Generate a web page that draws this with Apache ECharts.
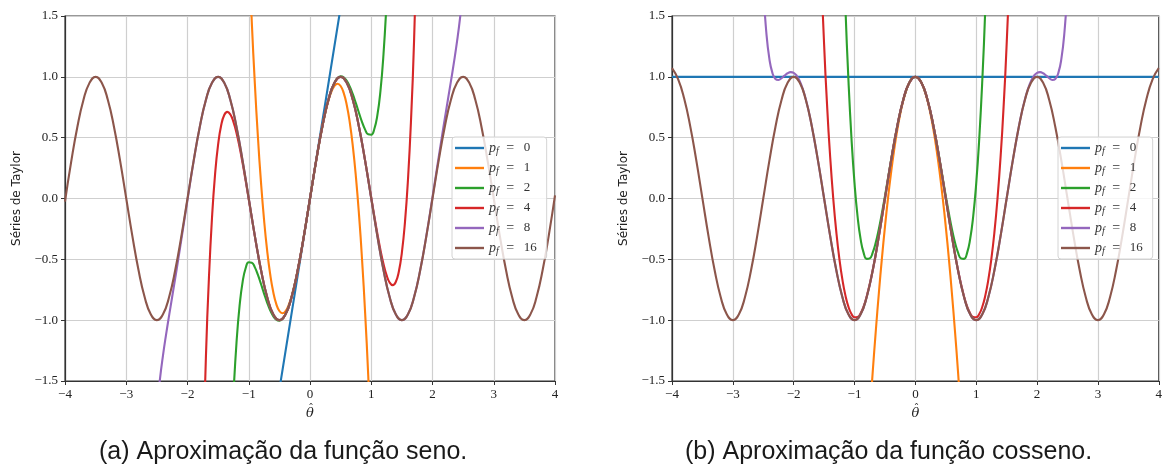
<!DOCTYPE html>
<html>
<head>
<meta charset="utf-8">
<script src="https://cdn.jsdelivr.net/npm/echarts@6/dist/echarts.min.js"></script>
<style>
  html, body { margin: 0; padding: 0; background: #ffffff; }
  #chart { width: 1165px; height: 473px; }
</style>
</head>
<body>
<div id="chart"></div>
<script>
// Taylor partial sums of sin(pi*theta) and cos(pi*theta), one array of [theta, value] per order p_f.

const seriesNames = ['p_f = 0', 'p_f = 1', 'p_f = 2', 'p_f = 4', 'p_f = 8', 'p_f = 16'];
const seriesColors = ['#1f77b4', '#ff7f0e', '#2ca02c', '#d62728', '#9467bd', '#8c564b'];
const captions = ['(a) Aproximação da função seno.', '(b) Aproximação da função cosseno.'];
const yAxisTitle = 'Séries de Taylor';
const xAxisTitle = '{h|\u02C6}\n{t|θ}';

// ---- sine panel ----
const sinP0 = [[-0.5, -1.5708], [0, 0], [0.5, 1.5708]];

const sinP1 = [
  [-1.0, 2.0261], [-0.95, 1.4462], [-0.9, 0.9399], [-0.85, 0.5033], [-0.8, 0.1326],
  [-0.75, -0.1760], [-0.7, -0.4266], [-0.65, -0.6228], [-0.6, -0.7687], [-0.55, -0.8681],
  [-0.5, -0.9248], [-0.45, -0.9428], [-0.4, -0.9259], [-0.35, -0.8780], [-0.3, -0.8029],
  [-0.25, -0.7047], [-0.2, -0.5870], [-0.15, -0.4538], [-0.1, -0.3090], [-0.05, -0.1564],
  [0, 0],
  [0.05, 0.1564], [0.1, 0.3090], [0.15, 0.4538], [0.2, 0.5870], [0.25, 0.7047],
  [0.3, 0.8029], [0.35, 0.8780], [0.4, 0.9259], [0.45, 0.9428], [0.5, 0.9248],
  [0.55, 0.8681], [0.6, 0.7687], [0.65, 0.6228], [0.7, 0.4266], [0.75, 0.1760],
  [0.8, -0.1326], [0.85, -0.5033], [0.9, -0.9399], [0.95, -1.4462], [1.0, -2.0261]
];

const sinP2 = [
  [-1.25, -1.6163], [-1.2, -1.1857], [-1.15, -0.8827], [-1.1, -0.6846], [-1.05, -0.5711],
  [-1.0, -0.5241], [-0.95, -0.5271], [-0.9, -0.5659], [-0.85, -0.6282], [-0.8, -0.7030],
  [-0.75, -0.7812], [-0.7, -0.8552], [-0.65, -0.9187], [-0.6, -0.9670], [-0.55, -0.9965],
  [-0.5, -1.0045], [-0.45, -0.9899], [-0.4, -0.9520], [-0.35, -0.8914], [-0.3, -0.8091],
  [-0.25, -0.7072], [-0.2, -0.5878], [-0.15, -0.4540], [-0.1, -0.3090], [-0.05, -0.1564],
  [0, 0],
  [0.05, 0.1564], [0.1, 0.3090], [0.15, 0.4540], [0.2, 0.5878], [0.25, 0.7072],
  [0.3, 0.8091], [0.35, 0.8914], [0.4, 0.9520], [0.45, 0.9899], [0.5, 1.0045],
  [0.55, 0.9965], [0.6, 0.9670], [0.65, 0.9187], [0.7, 0.8552], [0.75, 0.7812],
  [0.8, 0.7030], [0.85, 0.6282], [0.9, 0.5659], [0.95, 0.5271], [1.0, 0.5241],
  [1.05, 0.5711], [1.1, 0.6846], [1.15, 0.8827], [1.2, 1.1857], [1.25, 1.6163]
];

const sinP4 = [
  [-1.75, -2.1814], [-1.7, -1.3118], [-1.65, -0.6511], [-1.6, -0.1587], [-1.55, 0.1978],
  [-1.5, 0.4443], [-1.45, 0.6017], [-1.4, 0.6865], [-1.35, 0.7122], [-1.3, 0.6900],
  [-1.25, 0.6292], [-1.2, 0.5377], [-1.15, 0.4224], [-1.1, 0.2895], [-1.05, 0.1447],
  [-1.0, -0.0069], [-0.95, -0.1604], [-0.9, -0.3112], [-0.85, -0.4552], [-0.8, -0.5884],
  [-0.7, -0.8091], [-0.6, -0.9511], [-0.5, -1.0000], [-0.4, -0.9511], [-0.3, -0.8090],
  [-0.2, -0.5878], [-0.1, -0.3090], [0, 0], [0.1, 0.3090], [0.2, 0.5878],
  [0.3, 0.8090], [0.4, 0.9511], [0.5, 1.0000], [0.6, 0.9511], [0.7, 0.8091],
  [0.8, 0.5884], [0.85, 0.4552], [0.9, 0.3112], [0.95, 0.1604], [1.0, 0.0069],
  [1.05, -0.1447], [1.1, -0.2895], [1.15, -0.4224], [1.2, -0.5377], [1.25, -0.6292],
  [1.3, -0.6900], [1.35, -0.7122], [1.4, -0.6865], [1.45, -0.6017], [1.5, -0.4443],
  [1.55, -0.1978], [1.6, 0.1587], [1.65, 0.6511], [1.7, 1.3118], [1.75, 2.1814]
];

const sinP8 = [
  [-2.55, -2.0393], [-2.5, -1.7257], [-2.45, -1.4847], [-2.4, -1.2888], [-2.35, -1.1185],
  [-2.3, -0.9610], [-2.25, -0.8077], [-2.2, -0.6537], [-2.15, -0.4968], [-2.1, -0.3365],
  [-2.05, -0.1739], [-2.0, -0.0110], [-1.9, 0.3048], [-1.8, 0.5863], [-1.7, 0.8085],
  [-1.6, 0.9509], [-1.5, 1.0000], [-1.4, 0.9511], [-1.3, 0.8090], [-1.2, 0.5878],
  [-1.1, 0.3090], [-1.0, 0], [-0.9, -0.3090], [-0.8, -0.5878], [-0.7, -0.8090],
  [-0.6, -0.9511], [-0.5, -1.0000], [-0.4, -0.9511], [-0.3, -0.8090], [-0.2, -0.5878],
  [-0.1, -0.3090], [0, 0], [0.1, 0.3090], [0.2, 0.5878], [0.3, 0.8090],
  [0.4, 0.9511], [0.5, 1.0000], [0.6, 0.9511], [0.7, 0.8090], [0.8, 0.5878],
  [0.9, 0.3090], [1.0, 0], [1.1, -0.3090], [1.2, -0.5878], [1.3, -0.8090],
  [1.4, -0.9511], [1.5, -1.0000], [1.6, -0.9509], [1.7, -0.8085], [1.8, -0.5863],
  [1.9, -0.3048], [2.0, 0.0110], [2.05, 0.1739], [2.1, 0.3365], [2.15, 0.4968],
  [2.2, 0.6537], [2.25, 0.8077], [2.3, 0.9610], [2.35, 1.1185], [2.4, 1.2888],
  [2.45, 1.4847], [2.5, 1.7257], [2.55, 2.0393]
];

const sinP16 = [
  [-4.0, -0.0257], [-3.9, 0.2984], [-3.8, 0.5835], [-3.7, 0.8073], [-3.6, 0.9504],
  [-3.5, 1.0000], [-3.4, 0.9511], [-3.3, 0.8090], [-3.2, 0.5878], [-3.1, 0.3090],
  [-3.0, 0], [-2.9, -0.3090], [-2.8, -0.5878], [-2.7, -0.8090], [-2.6, -0.9511],
  [-2.5, -1.0000], [-2.4, -0.9511], [-2.3, -0.8090], [-2.2, -0.5878], [-2.1, -0.3090],
  [-2.0, 0], [-1.9, 0.3090], [-1.8, 0.5878], [-1.7, 0.8090], [-1.6, 0.9511],
  [-1.5, 1.0000], [-1.4, 0.9511], [-1.3, 0.8090], [-1.2, 0.5878], [-1.1, 0.3090],
  [-1.0, 0], [-0.9, -0.3090], [-0.8, -0.5878], [-0.7, -0.8090], [-0.6, -0.9511],
  [-0.5, -1.0000], [-0.4, -0.9511], [-0.3, -0.8090], [-0.2, -0.5878], [-0.1, -0.3090],
  [0, 0],
  [0.1, 0.3090], [0.2, 0.5878], [0.3, 0.8090], [0.4, 0.9511], [0.5, 1.0000],
  [0.6, 0.9511], [0.7, 0.8090], [0.8, 0.5878], [0.9, 0.3090], [1.0, 0],
  [1.1, -0.3090], [1.2, -0.5878], [1.3, -0.8090], [1.4, -0.9511], [1.5, -1.0000],
  [1.6, -0.9511], [1.7, -0.8090], [1.8, -0.5878], [1.9, -0.3090], [2.0, 0],
  [2.1, 0.3090], [2.2, 0.5878], [2.3, 0.8090], [2.4, 0.9511], [2.5, 1.0000],
  [2.6, 0.9511], [2.7, 0.8090], [2.8, 0.5878], [2.9, 0.3090], [3.0, 0],
  [3.1, -0.3090], [3.2, -0.5878], [3.3, -0.8090], [3.4, -0.9511], [3.5, -1.0000],
  [3.6, -0.9504], [3.7, -0.8073], [3.8, -0.5835], [3.9, -0.2984], [4.0, 0.0257]
];

// ---- cosine panel ----
const cosP0 = [[-4, 1], [4, 1]];

const cosP1 = [
  [-0.75, -1.7758], [-0.7, -1.4181], [-0.65, -1.0850], [-0.6, -0.7765], [-0.55, -0.4928],
  [-0.5, -0.2337], [-0.45, 0.0007], [-0.4, 0.2104], [-0.35, 0.3955], [-0.3, 0.5559],
  [-0.25, 0.6916], [-0.2, 0.8026], [-0.15, 0.8890], [-0.1, 0.9507], [-0.05, 0.9877],
  [0, 1.0000],
  [0.05, 0.9877], [0.1, 0.9507], [0.15, 0.8890], [0.2, 0.8026], [0.25, 0.6916],
  [0.3, 0.5559], [0.35, 0.3955], [0.4, 0.2104], [0.45, 0.0007], [0.5, -0.2337],
  [0.55, -0.4928], [0.6, -0.7765], [0.65, -1.0850], [0.7, -1.4181], [0.75, -1.7758]
];

const cosP2 = [
  [-1.2, 2.3100], [-1.15, 1.5724], [-1.1, 0.9713], [-1.05, 0.4928], [-1.0, 0.1239],
  [-0.95, -0.1479], [-0.9, -0.3343], [-0.85, -0.4467], [-0.8, -0.4959], [-0.75, -0.4916],
  [-0.7, -0.4436], [-0.65, -0.3605], [-0.6, -0.2505], [-0.55, -0.1214], [-0.5, 0.0200],
  [-0.45, 0.1671], [-0.4, 0.3143], [-0.35, 0.4564], [-0.3, 0.5888], [-0.25, 0.7075],
  [-0.2, 0.8091], [-0.15, 0.8910], [-0.1, 0.9511], [-0.05, 0.9877], [0, 1.0000],
  [0.05, 0.9877], [0.1, 0.9511], [0.15, 0.8910], [0.2, 0.8091], [0.25, 0.7075],
  [0.3, 0.5888], [0.35, 0.4564], [0.4, 0.3143], [0.45, 0.1671], [0.5, 0.0200],
  [0.55, -0.1214], [0.6, -0.2505], [0.65, -0.3605], [0.7, -0.4436], [0.75, -0.4916],
  [0.8, -0.4959], [0.85, -0.4467], [0.9, -0.3343], [0.95, -0.1479], [1.0, 0.1239],
  [1.05, 0.4928], [1.1, 0.9713], [1.15, 1.5724], [1.2, 2.3100]
];

const cosP4 = [
  [-1.6, 2.6715], [-1.55, 1.8950], [-1.5, 1.2657], [-1.45, 0.7547], [-1.4, 0.3388],
  [-1.35, 0.0007], [-1.3, -0.2731], [-1.25, -0.4926], [-1.2, -0.6651], [-1.15, -0.7962],
  [-1.1, -0.8898], [-1.05, -0.9489], [-1.0, -0.9760], [-0.95, -0.9732], [-0.9, -0.9426],
  [-0.85, -0.8862], [-0.8, -0.8064], [-0.7, -0.5871], [-0.6, -0.3088], [-0.5, 0.0000],
  [-0.4, 0.3090], [-0.3, 0.5878], [-0.2, 0.8090], [-0.1, 0.9511], [0, 1.0000],
  [0.1, 0.9511], [0.2, 0.8090], [0.3, 0.5878], [0.4, 0.3090], [0.5, 0.0000],
  [0.6, -0.3088], [0.7, -0.5871], [0.8, -0.8064], [0.85, -0.8862], [0.9, -0.9426],
  [0.95, -0.9732], [1.0, -0.9760], [1.05, -0.9489], [1.1, -0.8898], [1.15, -0.7962],
  [1.2, -0.6651], [1.25, -0.4926], [1.3, -0.2731], [1.35, 0.0007], [1.4, 0.3388],
  [1.45, 0.7547], [1.5, 1.2657], [1.55, 1.8950], [1.6, 2.6715]
];

const cosP8 = [
  [-2.55, 2.3000], [-2.5, 1.7310], [-2.45, 1.3667], [-2.4, 1.1489], [-2.35, 1.0322],
  [-2.3, 0.9825], [-2.25, 0.9743], [-2.2, 0.9883], [-2.15, 1.0101], [-2.1, 1.0295],
  [-2.05, 1.0388], [-2.0, 1.0329], [-1.95, 1.0087], [-1.9, 0.9643], [-1.85, 0.8992],
  [-1.8, 0.8140], [-1.75, 0.7101], [-1.7, 0.5896], [-1.6, 0.3096], [-1.5, 0.0002],
  [-1.4, -0.3090], [-1.3, -0.5878], [-1.2, -0.8090], [-1.1, -0.9511], [-1.0, -1.0000],
  [-0.9, -0.9511], [-0.8, -0.8090], [-0.7, -0.5878], [-0.6, -0.3090], [-0.5, 0],
  [-0.4, 0.3090], [-0.3, 0.5878], [-0.2, 0.8090], [-0.1, 0.9511], [0, 1.0000],
  [0.1, 0.9511], [0.2, 0.8090], [0.3, 0.5878], [0.4, 0.3090], [0.5, 0],
  [0.6, -0.3090], [0.7, -0.5878], [0.8, -0.8090], [0.9, -0.9511], [1.0, -1.0000],
  [1.1, -0.9511], [1.2, -0.8090], [1.3, -0.5878], [1.4, -0.3090], [1.5, 0.0002],
  [1.6, 0.3096], [1.7, 0.5896], [1.75, 0.7101], [1.8, 0.8140], [1.85, 0.8992],
  [1.9, 0.9643], [1.95, 1.0087], [2.0, 1.0329], [2.05, 1.0388], [2.1, 1.0295],
  [2.15, 1.0101], [2.2, 0.9883], [2.25, 0.9743], [2.3, 0.9825], [2.35, 1.0322],
  [2.4, 1.1489], [2.45, 1.3667], [2.5, 1.7310], [2.55, 2.3000]
];

const cosP16 = [
  [-4.0, 1.0710], [-3.9, 0.9813], [-3.8, 0.8215], [-3.7, 0.5929], [-3.6, 0.3110],
  [-3.5, 0.0008], [-3.4, -0.3090], [-3.3, -0.5878], [-3.2, -0.8090], [-3.1, -0.9511],
  [-3.0, -1.0000], [-2.9, -0.9511], [-2.8, -0.8090], [-2.7, -0.5878], [-2.6, -0.3090],
  [-2.5, 0], [-2.4, 0.3090], [-2.3, 0.5878], [-2.2, 0.8090], [-2.1, 0.9511],
  [-2.0, 1.0000], [-1.9, 0.9511], [-1.8, 0.8090], [-1.7, 0.5878], [-1.6, 0.3090],
  [-1.5, 0], [-1.4, -0.3090], [-1.3, -0.5878], [-1.2, -0.8090], [-1.1, -0.9511],
  [-1.0, -1.0000], [-0.9, -0.9511], [-0.8, -0.8090], [-0.7, -0.5878], [-0.6, -0.3090],
  [-0.5, 0], [-0.4, 0.3090], [-0.3, 0.5878], [-0.2, 0.8090], [-0.1, 0.9511],
  [0, 1.0000],
  [0.1, 0.9511], [0.2, 0.8090], [0.3, 0.5878], [0.4, 0.3090], [0.5, 0],
  [0.6, -0.3090], [0.7, -0.5878], [0.8, -0.8090], [0.9, -0.9511], [1.0, -1.0000],
  [1.1, -0.9511], [1.2, -0.8090], [1.3, -0.5878], [1.4, -0.3090], [1.5, 0],
  [1.6, 0.3090], [1.7, 0.5878], [1.8, 0.8090], [1.9, 0.9511], [2.0, 1.0000],
  [2.1, 0.9511], [2.2, 0.8090], [2.3, 0.5878], [2.4, 0.3090], [2.5, 0],
  [2.6, -0.3090], [2.7, -0.5878], [2.8, -0.8090], [2.9, -0.9511], [3.0, -1.0000],
  [3.1, -0.9511], [3.2, -0.8090], [3.3, -0.5878], [3.4, -0.3090], [3.5, 0.0008],
  [3.6, 0.3110], [3.7, 0.5929], [3.8, 0.8215], [3.9, 0.9813], [4.0, 1.0710]
];

const sinSeries = [sinP0, sinP1, sinP2, sinP4, sinP8, sinP16];
const cosSeries = [cosP0, cosP1, cosP2, cosP4, cosP8, cosP16];

// ---- layout ----
const panels = [
  { left: 65, width: 490, legendLeft: 452, captionLeft: 99, data: sinSeries },
  { left: 672, width: 489, legendLeft: 1058, captionLeft: 685, data: cosSeries }
];
const gridTop = 16, gridHeight = 365;

const tickFont = 'Liberation Serif';
const axisColor = '#333333';
const minusSign = v => (v < 0 ? '\u2212' : '');

function xAxisFor(i) {
  return {
    gridIndex: i, type: 'value', min: -4, max: 4, interval: 1,
    name: xAxisTitle, nameLocation: 'middle', nameGap: 28, nameMoveOverlap: false,
    nameTextStyle: {
      rich: {
        h: { fontFamily: 'DejaVu Serif', fontSize: 11, lineHeight: 1, padding: [0, 0, 0, 2], color: '#222' },
        t: { fontFamily: 'DejaVu Serif', fontStyle: 'italic', fontSize: 13, lineHeight: 8, color: '#222' }
      }
    },
    axisLine: { show: true, onZero: false, lineStyle: { color: axisColor, width: 1.2 } },
    axisTick: { show: true, inside: false, length: 4, lineStyle: { color: axisColor, width: 1 } },
    axisLabel: {
      margin: 7, fontFamily: tickFont, fontSize: 13, color: '#222',
      formatter: v => minusSign(v) + Math.abs(v)
    },
    splitLine: { show: true, lineStyle: { color: '#cfcfcf', width: 1.2 } }
  };
}

function yAxisFor(i) {
  return {
    gridIndex: i, type: 'value', min: -1.5, max: 1.5, interval: 0.5,
    name: yAxisTitle, nameLocation: 'middle', nameGap: 42, nameRotate: 90, nameMoveOverlap: false,
    nameTextStyle: { fontFamily: 'DejaVu Sans', fontSize: 12, color: '#222' },
    axisLine: { show: true, onZero: false, lineStyle: { color: axisColor, width: 1.2 } },
    axisTick: { show: true, inside: false, length: 4, lineStyle: { color: axisColor, width: 1 } },
    axisLabel: {
      margin: 7, fontFamily: tickFont, fontSize: 13, color: '#222',
      formatter: v => minusSign(v) + Math.abs(v).toFixed(1)
    },
    splitLine: { show: true, lineStyle: { color: '#cfcfcf', width: 1.2 } }
  };
}

function legendFor(p) {
  return {
    data: seriesNames, orient: 'vertical', left: p.legendLeft, top: 137,
    padding: [3, 10, 3, 3], itemGap: 4, itemWidth: 29, itemHeight: 2.4, icon: 'rect',
    backgroundColor: 'rgba(255,255,255,0.8)', borderColor: '#d4d4d4', borderWidth: 1, borderRadius: 3,
    formatter: n => '{p|p}{s|f}{t| = }{d|' + n.split('= ')[1] + '}',
    textStyle: {
      lineHeight: 16,
      rich: {
        p: { fontFamily: tickFont, fontStyle: 'italic', fontSize: 14, lineHeight: 16, color: '#333' },
        s: { fontFamily: tickFont, fontStyle: 'italic', fontSize: 10, lineHeight: 10, verticalAlign: 'bottom', color: '#333' },
        t: { fontFamily: tickFont, fontSize: 14, lineHeight: 16, padding: [0, 0, 0, 4], color: '#333' },
        d: { fontFamily: tickFont, fontSize: 13, lineHeight: 16, padding: [0, 0, 0, 6], color: '#333' }
      }
    }
  };
}

const series = [];
panels.forEach((p, gi) => {
  p.data.forEach((d, si) => {
    series.push({
      name: seriesNames[si], type: 'line', xAxisIndex: gi, yAxisIndex: gi,
      data: d, smooth: si === 0 ? false : true, showSymbol: false, symbol: 'none',
      clip: true, color: seriesColors[si],
      lineStyle: { color: seriesColors[si], width: 2.1 },
      emphasis: { disabled: true }, z: 2 + si * 0.01
    });
  });
});

const chart = echarts.init(document.getElementById('chart'), null, { renderer: 'canvas' });
chart.setOption({
  animation: false,
  backgroundColor: '#ffffff',
  grid: panels.map(p => ({
    left: p.left, top: gridTop, width: p.width, height: gridHeight,
    show: true, borderColor: axisColor, borderWidth: 1.2, backgroundColor: 'transparent'
  })),
  xAxis: panels.map((p, i) => xAxisFor(i)),
  yAxis: panels.map((p, i) => yAxisFor(i)),
  legend: panels.map(legendFor),
  graphic: panels.map((p, i) => ({
    type: 'text', left: p.captionLeft, top: 440, silent: true,
    style: { text: captions[i], font: '25px "Liberation Sans"', fill: '#1a1a1a' }
  })),
  series: series
});
</script>
</body>
</html>
